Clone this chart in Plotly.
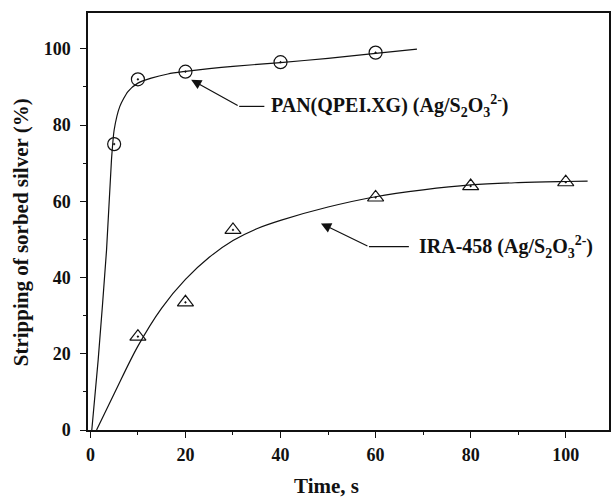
import plotly.graph_objects as go

# ---- data ----
pan_t = [5, 10, 20, 40, 60]
pan_y = [75, 92, 94, 96.5, 99]
ira_t = [10, 20, 30, 60, 80, 100]
ira_y = [24.5, 33.5, 52.5, 61, 64, 65]

# fitted (drawn) curves
pan_fit_t = [0.3, 1.64, 3.4, 4.44, 5.0, 6.2, 7.9, 10.0, 12.8, 16.3, 19.5, 25, 30, 40, 50, 60, 68.7]
pan_fit_y = [0, 18.4, 47.2, 70.9, 78.7, 84.9, 88.8, 91.0, 92.3, 93.4, 94.0, 94.8, 95.4, 96.4, 97.5, 98.8, 99.9]
ira_fit_t = [1.3, 5, 10, 15, 20, 25, 30, 35, 40, 50, 60, 70, 80, 90, 100, 104.6]
ira_fit_y = [0, 9.5, 22, 32, 39.5, 45.3, 49.7, 52.8, 55, 58.5, 61.2, 63, 64.3, 64.9, 65.2, 65.3]

x_ticks = [0, 20, 40, 60, 80, 100]
y_ticks = [0, 20, 40, 60, 80, 100]

pan_label = "PAN(QPEI.XG) (Ag/S<sub>2</sub>O<sub>3</sub><sup>2-</sup>)"
ira_label = "IRA-458 (Ag/S<sub>2</sub>O<sub>3</sub><sup>2-</sup>)"
x_title = "Time, s"
y_title = "Stripping of sorbed silver (%)"

FONT = "Liberation Serif"
BLK = "#111111"

fig = go.Figure()
fig.add_trace(go.Scatter(x=pan_fit_t, y=pan_fit_y, mode="lines",
                         line=dict(color=BLK, width=1.2, shape="spline", smoothing=0.6),
                         hoverinfo="skip"))
fig.add_trace(go.Scatter(x=ira_fit_t, y=ira_fit_y, mode="lines",
                         line=dict(color=BLK, width=1.2, shape="spline", smoothing=1.0),
                         hoverinfo="skip"))
fig.add_trace(go.Scatter(x=pan_t, y=pan_y, mode="markers",
                         marker=dict(symbol="circle-open-dot", size=13, color=BLK,
                                     line=dict(width=1.2, color=BLK))))
fig.add_trace(go.Scatter(x=ira_t, y=ira_y, mode="markers",
                         marker=dict(symbol="triangle-up-open-dot", size=14, color=BLK,
                                     line=dict(width=1.2, color=BLK))))

# label leader lines (horizontal part)
fig.add_trace(go.Scatter(x=[36.6, 31.3], y=[84.9, 84.9], mode="lines",
                         line=dict(color=BLK, width=1.2), hoverinfo="skip"))
fig.add_trace(go.Scatter(x=[67.0, 58.6], y=[48.1, 48.1], mode="lines",
                         line=dict(color=BLK, width=1.2), hoverinfo="skip"))

annotations = [
    dict(x=21.2, y=91.9, ax=31.3, ay=84.9, xref="x", yref="y", axref="x", ayref="y",
         text="", showarrow=True, arrowhead=2, arrowsize=1.7, arrowwidth=1.2, arrowcolor=BLK),
    dict(x=48.5, y=54.2, ax=58.6, ay=48.1, xref="x", yref="y", axref="x", ayref="y",
         text="", showarrow=True, arrowhead=2, arrowsize=1.7, arrowwidth=1.2, arrowcolor=BLK),
    dict(x=37.6, y=84.9, xref="x", yref="y", text="<b>" + pan_label + "</b>", showarrow=False,
         xanchor="left", yanchor="middle", font=dict(family=FONT, size=20, color=BLK)),
    dict(x=68.8, y=48.1, xref="x", yref="y", text="<b>" + ira_label + "</b>", showarrow=False,
         xanchor="left", yanchor="middle", font=dict(family=FONT, size=20, color=BLK)),
    dict(x=327, y=486, xref="paper", yref="paper", text="<b>" + x_title + "</b>", showarrow=False,
         xanchor="center", yanchor="middle", font=dict(family=FONT, size=21, color=BLK)),
    dict(x=21, y=232, xref="paper", yref="paper", text="<b>" + y_title + "</b>", showarrow=False,
         textangle=-90, xanchor="center", yanchor="middle", font=dict(family=FONT, size=21, color=BLK)),
]
# convert pixel placements of axis titles to paper coordinates
L, R, T, B = 88, 1, 13, 68
W, H = 612, 498
pw, ph = W - L - R, H - T - B
for a in annotations[4:]:
    a["x"] = (a["x"] - L) / pw
    a["y"] = (H - B - a["y"]) / ph

fig.update_layout(
    width=W, height=H, margin=dict(l=L, r=R, t=T, b=B),
    paper_bgcolor="white", plot_bgcolor="white", showlegend=False,
    font=dict(family=FONT, color=BLK),
    annotations=annotations,
)
fig.update_xaxes(range=[-0.5, 109.1], tickvals=x_ticks, ticktext=[str(v) for v in x_ticks],
                 ticks="outside", ticklen=6, tickwidth=1.2, tickcolor=BLK, ticklabelstandoff=2,
                 minor=dict(tickvals=[10, 30, 50, 70, 90], ticks="outside", ticklen=3, tickcolor=BLK, tickwidth=1),
                 showline=True, linecolor=BLK, linewidth=1.5, mirror=True, showgrid=False, zeroline=False,
                 tickfont=dict(family=FONT, size=18, color=BLK, weight="bold"))
fig.update_yaxes(range=[0, 109.4], tickvals=y_ticks, ticktext=[str(v) for v in y_ticks],
                 ticks="outside", ticklen=6, tickwidth=1.2, tickcolor=BLK, ticklabelstandoff=6,
                 minor=dict(tickvals=[10, 30, 50, 70, 90], ticks="outside", ticklen=3, tickcolor=BLK, tickwidth=1),
                 showline=True, linecolor=BLK, linewidth=1.5, mirror=True, showgrid=False, zeroline=False,
                 tickfont=dict(family=FONT, size=18, color=BLK, weight="bold"))

fig.write_html("out.html")
